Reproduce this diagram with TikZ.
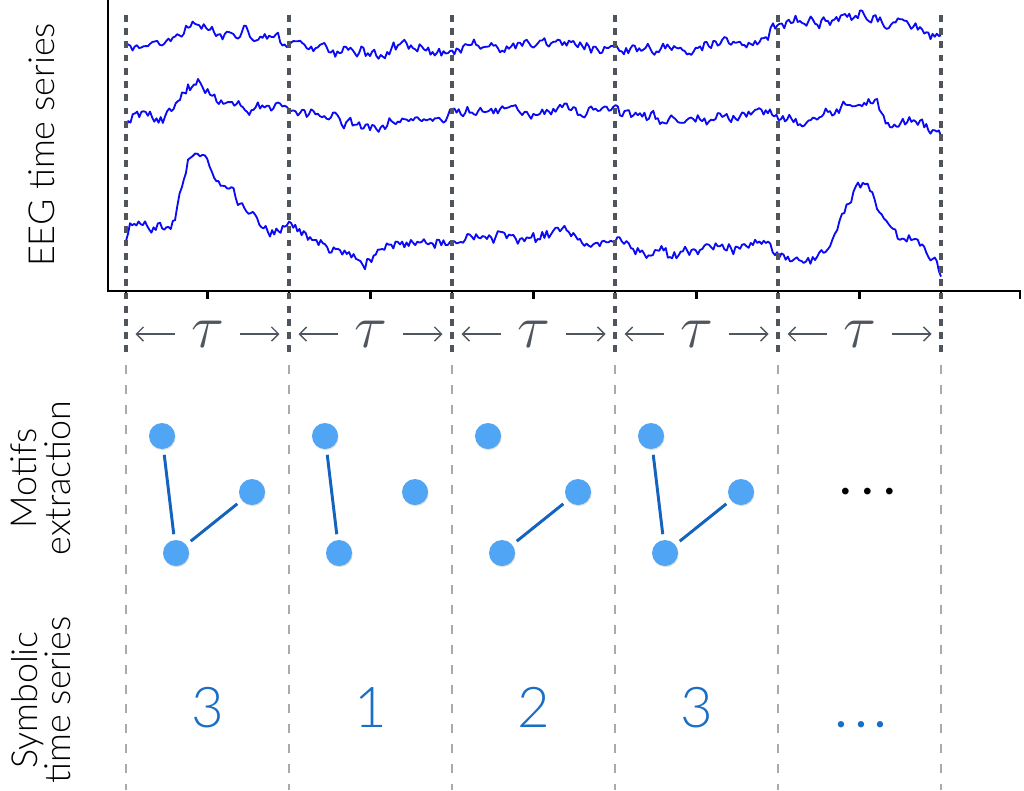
\documentclass[tikz,border=0pt]{standalone}
\usepackage{fontspec}
\setmainfont{Lato Light}
\newfontfamily\latoreg{Lato}
\usetikzlibrary{arrows.meta,shadows}
\definecolor{eegblue}{RGB}{10,10,245}
\definecolor{dashdark}{RGB}{80,85,92}
\definecolor{dashlight}{RGB}{170,170,170}
\definecolor{nodeblue}{RGB}{80,165,245}
\definecolor{linkblue}{RGB}{20,100,190}
\definecolor{numblue}{RGB}{25,110,200}
\definecolor{taugray}{RGB}{80,86,94}

\newcommand\eegtrace[3]{%
  \gdef\eegpts{}%
  \gdef\eegw{0}%
  \foreach \xb/\yb [remember=\xb as \xa (initially #1), remember=\yb as \ya (initially #2)] in {#3}{%
    \pgfmathtruncatemacro\nsteps{max(1,round((\xb-\xa)/2.2))}%
    \foreach \k in {1,...,\nsteps}{%
      \pgfmathsetmacro\eegt{\k/\nsteps}%
      \pgfmathsetmacro\nw{0.6*\eegw+4.6*rand}%
      \xdef\eegw{\nw}%
      \pgfmathsetmacro\px{\xa+(\xb-\xa)*\eegt}%
      \pgfmathsetmacro\py{\ya+(\yb-\ya)*\eegt+\nw+2.2*rand}%
      \xdef\eegpts{\eegpts (\px,\py)}%
    }%
  }%
  \draw[eeg] plot coordinates {\eegpts};%
}
\newcommand\spdots[1]{\makebox[#1]{.}\makebox[#1]{.}\makebox[#1]{.}}

\begin{document}
\begin{tikzpicture}[x=0.025cm,y=-0.025cm,
  eeg/.style={eegblue,line width=1.3pt,line join=round},
  axisline/.style={black,line width=1.8pt},
  tickline/.style={black,line width=1.6pt},
  darkdash/.style={dashdark,line width=2.5pt,dash pattern=on 4.8pt off 4.6pt},
  lightdash/.style={dashlight,line width=1pt,dash pattern=on 6.4pt off 7.8pt},
  tau/.style={taugray,inner sep=0pt,minimum width=45.5pt,minimum height=20pt,font=\fontsize{24.88}{25}\selectfont},
  tarrow/.style={taugray,line width=1pt,-{Straight Barb[length=5pt,width=10pt]}},
  motif/.style={circle,fill=nodeblue,minimum size=18.5pt,inner sep=0pt,
    drop shadow={shadow xshift=0.5pt,shadow yshift=-0.8pt,opacity=0.25}},
  mlink/.style={linkblue,line width=2.1pt,shorten >=4pt,shorten <=4pt},
  num/.style={numblue,inner sep=0pt,font=\fontsize{40}{40}\selectfont},
  lbl/.style={rotate=90,align=center,inner sep=0pt,font=\fontsize{25.5}{24}\selectfont}
]
\useasboundingbox (0,0) rectangle (1024,790);
\pgfmathsetseed{7}

% axes
\coordinate (ytop) at (108,0);
\coordinate (orig) at (108,291);
\coordinate (xend) at (1021,291);
\draw[axisline] (ytop) -- (orig) -- (xend);
\foreach \i in {0,...,11}{
  \pgfmathsetmacro\tx{min(126+81.5*\i,1020)}
  \coordinate (tk\i) at (\tx,291);
  \draw[tickline] (tk\i) -- ++(0,8);
}

% EEG traces
\eegtrace{126}{45}{126/45, 150/42, 162/46, 175/36, 186/28, 197/20, 206/30, 216/36, 240/40, 246/30, 256/40, 289/40, 320/46, 370/54, 400/46, 450/48, 500/46, 560/44, 600/48, 650/50, 700/46, 740/42, 768/44, 773/24, 800/20, 830/19, 860/15, 880/18, 900/22, 920/28, 941/38}
\eegtrace{126}{128}{126/128, 135/116, 165/118, 180/102, 190/86, 198/82, 210/94, 230/106, 260/110, 289/112, 320/116, 370/128, 400/118, 450/114, 500/110, 540/112, 560/106, 600/112, 640/115, 660/120, 700/117, 740/118, 770/112, 800/122, 830/116, 850/104, 862/100, 875/104, 890/122, 920/125, 941/137}
\eegtrace{126}{240}{126/240, 130/224, 160/228, 175/222, 182/190, 188/160, 200/158, 212/170, 225/184, 240/205, 255/220, 270/232, 289/226, 310/238, 340/250, 365/262, 380/248, 400/242, 450/240, 500/238, 540/238, 560/228, 580/240, 615/240, 640/250, 670/255, 700/248, 740/246, 768/238, 775/252, 790/262, 815/262, 830/248, 842/210, 858/186, 870/190, 884/222, 900/240, 920/244, 941/272}

% dividers
\foreach \i/\dx in {0/126,1/289,2/452,3/615,4/778,5/941}{
  \coordinate (dt\i) at (\dx,15);
  \coordinate (dm\i) at (\dx,355);
  \coordinate (ds\i) at (\dx,365);
  \coordinate (db\i) at (\dx,790);
  \draw[darkdash] (dt\i) -- (dm\i);
  \draw[lightdash] (ds\i) -- (db\i);
}

% tau labels
\foreach \i in {0,...,4}{
  \pgfmathsetmacro\cx{207.5+163*\i}
  \node[tau] (tau\i) at (\cx,334) {\scalebox{1.75}{$\tau$}};
  \coordinate (la\i) at (\cx-72,334);
  \coordinate (ra\i) at (\cx+72,334);
  \draw[tarrow] (tau\i.west) -- (la\i);
  \draw[tarrow] (tau\i.east) -- (ra\i);
}

% motifs
\foreach \i in {0,...,3}{
  \pgfmathsetmacro\ox{126+163*\i}
  \node[motif] (a\i) at (\ox+36,436) {};
  \node[motif] (b\i) at (\ox+126,492) {};
  \node[motif] (c\i) at (\ox+50,553) {};
}
\draw[mlink] (a0) -- (c0);
\draw[mlink] (c0) -- (b0);
\draw[mlink] (a1) -- (c1);
\draw[mlink] (c2) -- (b2);
\draw[mlink] (a3) -- (c3);
\draw[mlink] (c3) -- (b3);
\node[inner sep=0pt,anchor=base,font=\fontsize{38}{38}\latoreg] (mdots) at (868,494) {\spdots{15.6pt}};

% symbols
\node[num,anchor=base] (s0) at (207.5,727) {3};
\node[num,anchor=base] (s1) at (370.5,727) {1};
\node[num,anchor=base] (s2) at (533.5,727) {2};
\node[num,anchor=base] (s3) at (696.5,727) {3};
\node[num,anchor=base,font=\fontsize{36}{36}\latoreg] (s4) at (861,727) {\spdots{14.2pt}};

% row labels
\node[lbl] (leeg) at (42,145) {EEG time series};
\node[lbl] (lmot) at (41,478) {Motifs\\extraction};
\node[lbl] (lsym) at (41,700) {Symbolic\\time series};
\end{tikzpicture}
\end{document}
